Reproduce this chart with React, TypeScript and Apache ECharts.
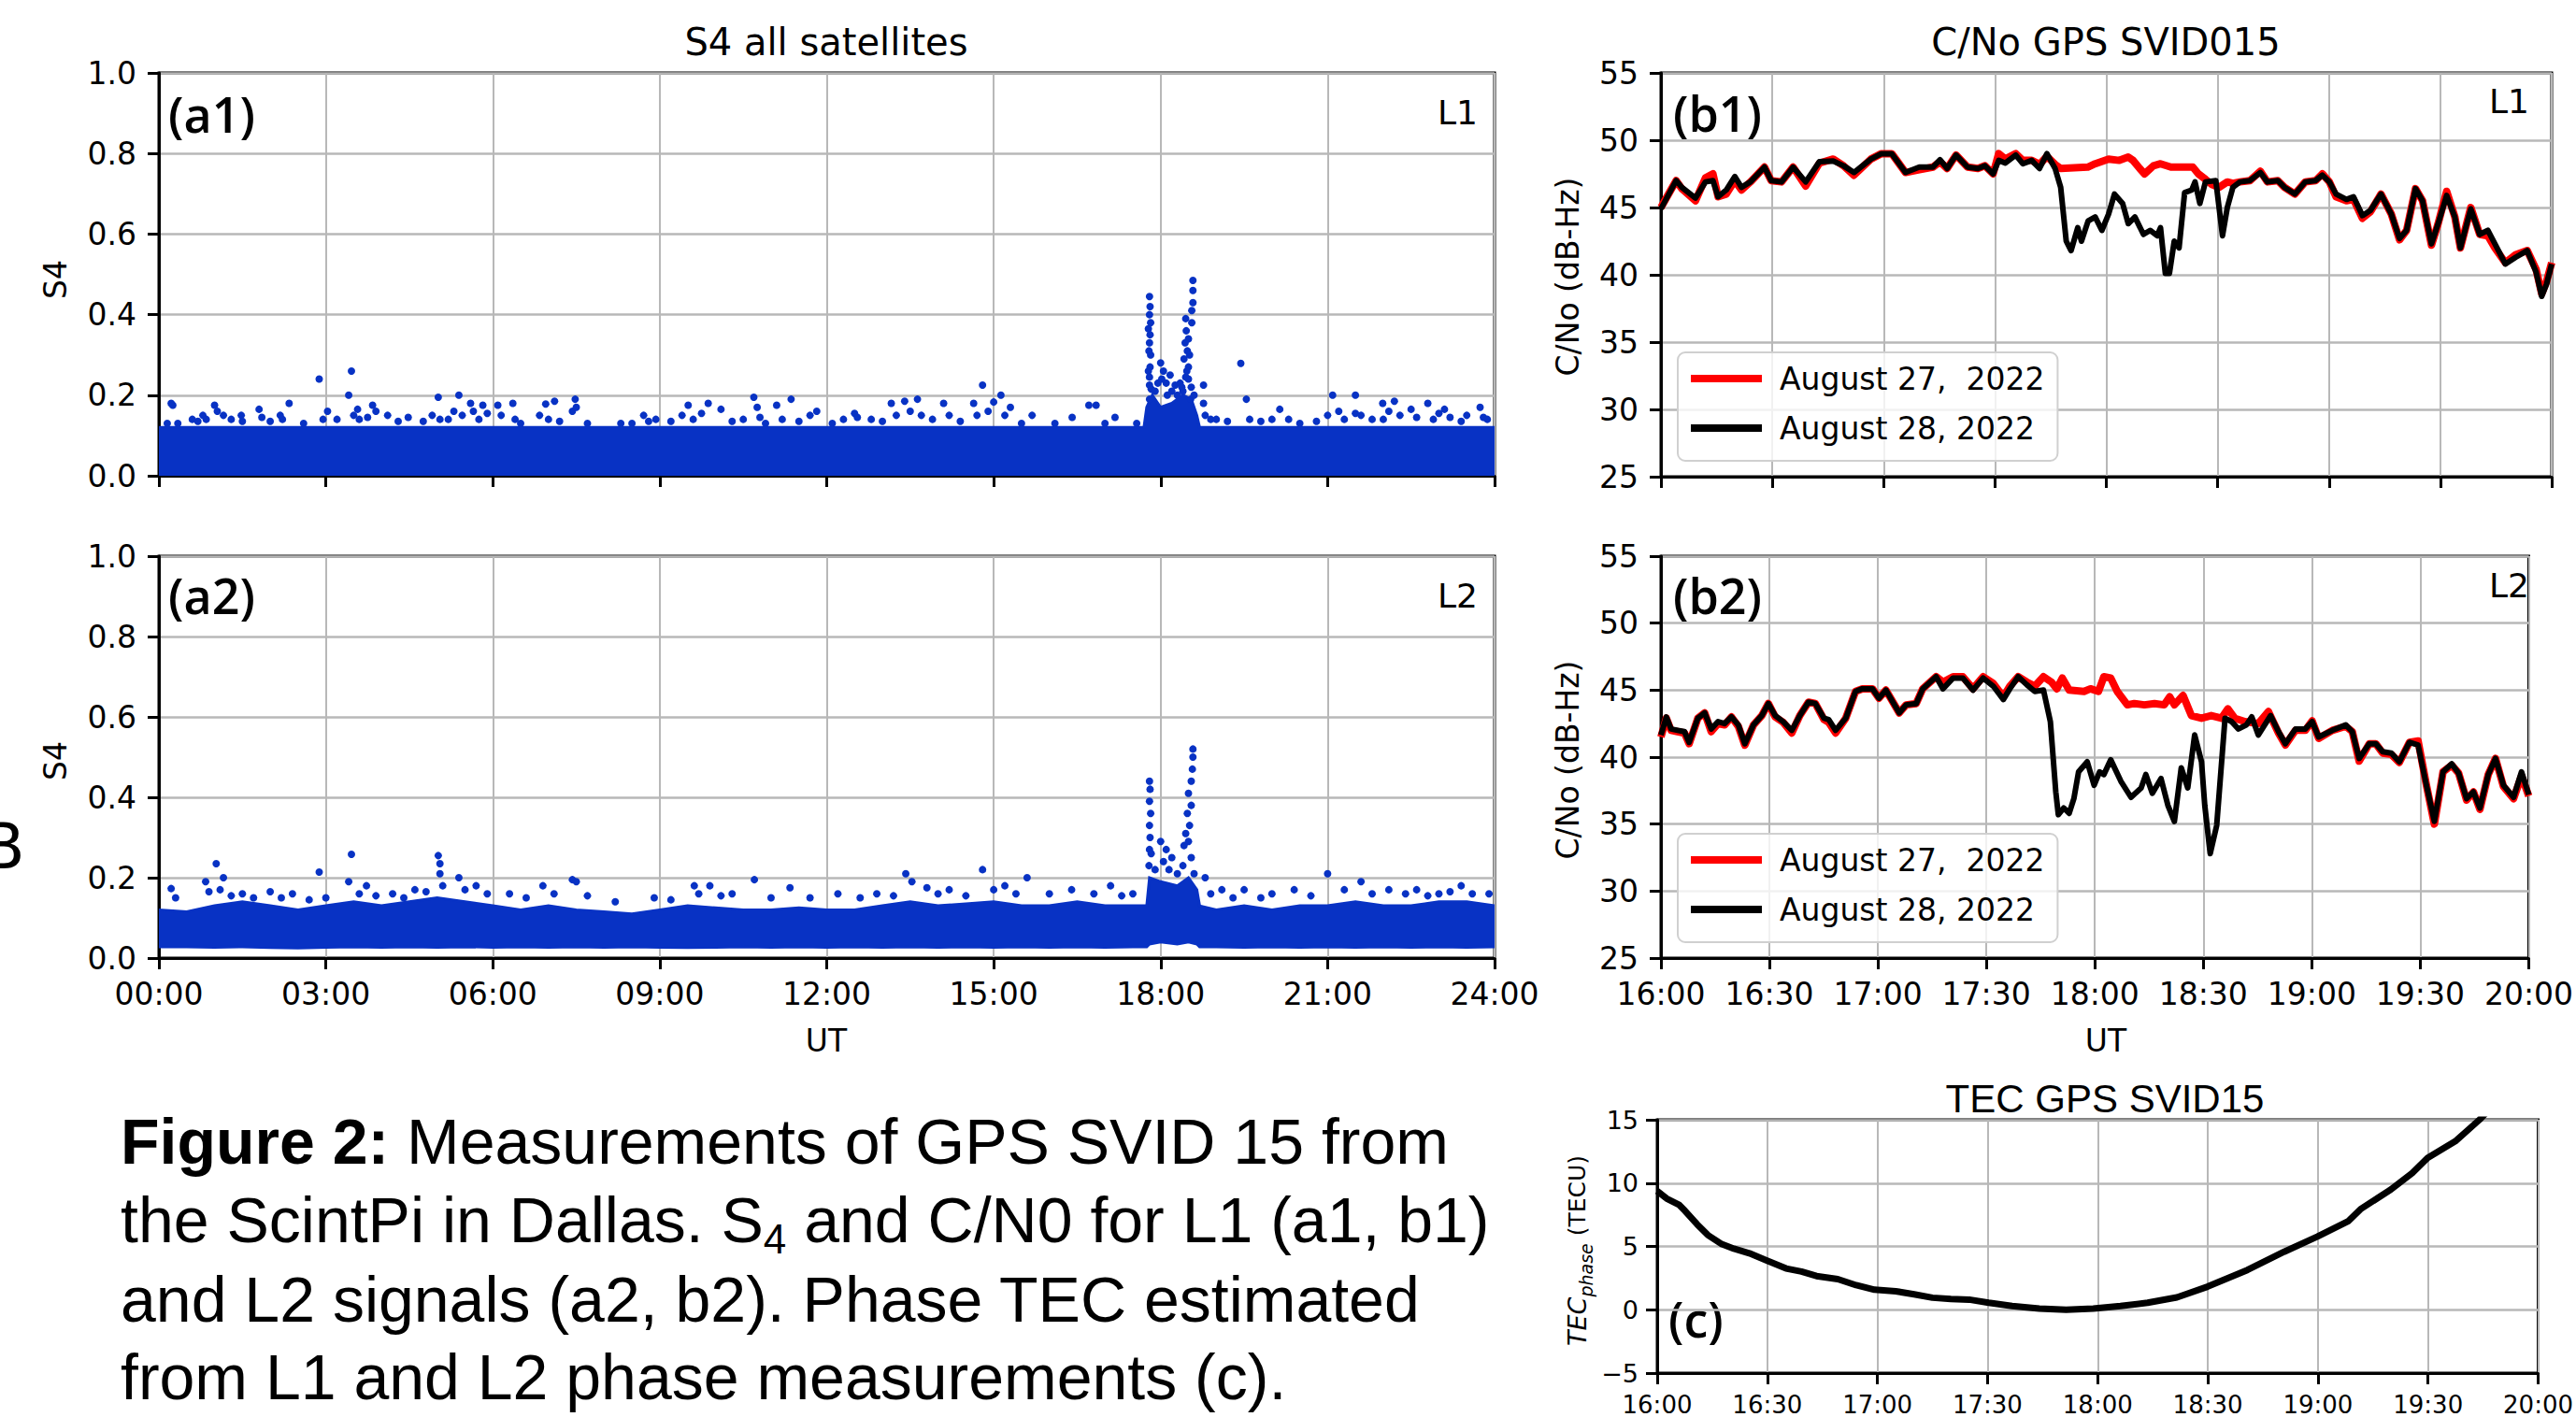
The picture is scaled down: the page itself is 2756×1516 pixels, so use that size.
import React, { useEffect, useRef } from "react";
import * as echarts from "echarts";

// ---------- DATA ----------
// (a1) S4 L1 : dense band envelope (hours UT, S4)
const a1BandHours = [0, 17.7, 17.75, 17.85, 18.0, 18.2, 18.4, 18.55, 18.65, 18.7, 24];
const a1BandUpper = [0.12, 0.12, 0.17, 0.2, 0.17, 0.18, 0.2, 0.19, 0.15, 0.12, 0.12];
const a1BandLower = [0.003, 0.003, 0.003, 0.003, 0.003, 0.003, 0.003, 0.003, 0.003, 0.003, 0.003];
// (a1) individual points above the band
const a1Points = [
  [0.15, 0.13], [0.22, 0.18], [0.25, 0.175], [0.34, 0.13], [0.6, 0.14], [0.7, 0.135], [0.79, 0.15], [0.85, 0.14],
  [1.0, 0.175], [1.05, 0.16], [1.16, 0.15], [1.3, 0.14], [1.48, 0.15], [1.5, 0.135], [1.8, 0.165], [1.85, 0.145],
  [2.0, 0.135], [2.18, 0.15], [2.22, 0.14], [2.34, 0.18], [2.6, 0.13], [2.88, 0.24], [2.95, 0.14], [3.03, 0.16],
  [3.2, 0.14], [3.41, 0.2], [3.46, 0.26], [3.5, 0.15], [3.57, 0.165], [3.6, 0.14], [3.75, 0.145], [3.84, 0.175],
  [3.9, 0.16], [4.11, 0.15], [4.3, 0.135], [4.48, 0.145], [4.75, 0.135], [4.91, 0.15], [5.02, 0.195], [5.05, 0.14],
  [5.2, 0.14], [5.3, 0.16], [5.39, 0.2], [5.45, 0.15], [5.6, 0.18], [5.65, 0.16], [5.75, 0.14], [5.82, 0.175],
  [5.9, 0.155], [6.09, 0.175], [6.15, 0.15], [6.36, 0.18], [6.4, 0.14], [6.5, 0.13], [6.84, 0.15], [6.95, 0.178],
  [7.0, 0.14], [7.11, 0.185], [7.2, 0.135], [7.43, 0.16], [7.48, 0.19], [7.5, 0.17], [7.7, 0.13], [8.3, 0.13],
  [8.5, 0.13], [8.71, 0.15], [8.8, 0.135], [8.93, 0.14], [9.2, 0.135], [9.4, 0.15], [9.51, 0.175], [9.6, 0.14],
  [9.75, 0.155], [9.87, 0.18], [10.1, 0.165], [10.3, 0.135], [10.5, 0.14], [10.69, 0.195], [10.75, 0.17], [10.8, 0.145],
  [10.9, 0.13], [11.1, 0.175], [11.2, 0.14], [11.36, 0.19], [11.5, 0.135], [11.7, 0.15], [11.82, 0.16], [12.1, 0.13],
  [12.3, 0.14], [12.5, 0.155], [12.55, 0.145], [12.8, 0.14], [13.0, 0.135], [13.16, 0.18], [13.25, 0.15], [13.4, 0.185],
  [13.5, 0.16], [13.63, 0.19], [13.7, 0.15], [13.9, 0.14], [14.1, 0.18], [14.2, 0.15], [14.4, 0.135], [14.64, 0.18],
  [14.7, 0.15], [14.8, 0.225], [14.9, 0.16], [15.0, 0.183], [15.13, 0.2], [15.2, 0.15], [15.3, 0.17], [15.5, 0.13],
  [15.69, 0.15], [16.1, 0.13], [16.41, 0.145], [16.71, 0.175], [16.84, 0.175], [17.0, 0.13], [17.18, 0.145],
  [17.57, 0.13],
  [17.8, 0.445], [17.81, 0.42], [17.8, 0.4], [17.82, 0.38], [17.81, 0.35], [17.8, 0.33], [17.82, 0.3], [17.81, 0.27],
  [17.8, 0.245], [17.83, 0.215], [17.8, 0.19], [17.78, 0.365], [17.79, 0.31], [17.78, 0.26], [17.8, 0.225],
  [17.9, 0.21], [17.95, 0.23], [18.0, 0.28], [18.02, 0.24], [18.05, 0.26], [18.1, 0.23], [18.12, 0.2], [18.17, 0.25],
  [18.2, 0.21], [18.26, 0.225], [18.3, 0.2], [18.35, 0.23],
  [18.58, 0.485], [18.58, 0.46], [18.58, 0.43], [18.56, 0.41], [18.45, 0.39], [18.56, 0.38], [18.46, 0.36], [18.5, 0.34],
  [18.48, 0.31], [18.42, 0.29], [18.5, 0.27], [18.45, 0.245], [18.38, 0.22], [18.54, 0.19], [18.5, 0.24],
  [18.44, 0.33], [18.52, 0.3], [18.47, 0.26], [18.55, 0.22], [18.6, 0.2], [18.4, 0.21],
  [18.77, 0.225], [18.77, 0.18], [18.8, 0.15], [18.9, 0.14], [19.0, 0.14], [19.2, 0.135], [19.44, 0.279], [19.54, 0.19],
  [19.6, 0.14], [19.8, 0.135], [20.0, 0.14], [20.14, 0.165], [20.3, 0.14], [20.5, 0.13], [20.8, 0.135], [21.0, 0.15],
  [21.09, 0.2], [21.2, 0.16], [21.3, 0.14], [21.5, 0.2], [21.5, 0.155], [21.6, 0.15], [21.8, 0.14], [21.99, 0.18],
  [22.0, 0.14], [22.1, 0.16], [22.2, 0.185], [22.3, 0.15], [22.5, 0.165], [22.6, 0.145], [22.8, 0.18], [22.9, 0.14],
  [23.0, 0.155], [23.1, 0.165], [23.2, 0.145], [23.4, 0.135], [23.5, 0.15], [23.74, 0.17], [23.8, 0.145], [23.87, 0.14]
];

// (a2) S4 L2 : dense band envelope
const a2BandHours = [0, 0.5, 1, 1.5, 2, 2.5, 3, 3.5, 4, 4.5, 5, 5.5, 6, 6.5, 7, 7.5, 8, 8.5, 9, 9.5, 10, 10.5, 11, 11.5, 12,
  12.5, 13, 13.5, 14, 14.5, 15, 15.5, 16, 16.5, 17, 17.5, 17.75, 17.8, 18.0, 18.3, 18.5, 18.65, 18.7, 19, 19.5, 20, 20.5,
  21, 21.5, 22, 22.5, 23, 23.5, 24];
const a2BandUpper = [0.12, 0.115, 0.13, 0.14, 0.13, 0.12, 0.13, 0.14, 0.13, 0.14, 0.15, 0.14, 0.13, 0.12, 0.13, 0.12, 0.115,
  0.11, 0.12, 0.13, 0.125, 0.12, 0.12, 0.125, 0.12, 0.12, 0.13, 0.14, 0.13, 0.135, 0.14, 0.13, 0.13, 0.14, 0.13, 0.13, 0.13,
  0.2, 0.19, 0.18, 0.2, 0.17, 0.13, 0.12, 0.13, 0.12, 0.13, 0.13, 0.14, 0.13, 0.13, 0.14, 0.14, 0.13];
const a2BandLower = [0.028, 0.028, 0.027, 0.028, 0.026, 0.025, 0.027, 0.028, 0.027, 0.028, 0.027, 0.028, 0.027, 0.028, 0.027,
  0.028, 0.027, 0.028, 0.027, 0.026, 0.027, 0.028, 0.027, 0.028, 0.027, 0.028, 0.027, 0.028, 0.027, 0.028, 0.027, 0.028, 0.027,
  0.028, 0.027, 0.028, 0.028, 0.035, 0.04, 0.035, 0.04, 0.035, 0.028, 0.028, 0.027, 0.028, 0.027, 0.028, 0.027, 0.028, 0.027,
  0.028, 0.027, 0.028];
const a2Points = [
  [0.22, 0.173], [0.3, 0.15], [0.84, 0.19], [0.9, 0.165], [1.03, 0.235], [1.1, 0.17], [1.16, 0.2], [1.3, 0.155],
  [1.5, 0.16], [1.7, 0.15], [2.0, 0.165], [2.2, 0.15], [2.4, 0.16], [2.7, 0.145], [2.88, 0.214], [3.0, 0.15],
  [3.41, 0.19], [3.46, 0.258], [3.6, 0.16], [3.73, 0.18], [3.9, 0.155], [4.2, 0.16], [4.4, 0.15], [4.6, 0.17],
  [4.8, 0.165], [5.02, 0.255], [5.05, 0.235], [5.05, 0.21], [5.1, 0.18], [5.39, 0.2], [5.5, 0.17], [5.7, 0.18],
  [5.9, 0.16], [6.3, 0.16], [6.6, 0.15], [6.9, 0.18], [7.1, 0.16], [7.43, 0.195], [7.5, 0.19], [7.7, 0.155],
  [8.2, 0.14], [8.9, 0.15], [9.2, 0.145], [9.62, 0.18], [9.7, 0.16], [9.9, 0.18], [10.1, 0.155], [10.3, 0.16],
  [10.7, 0.195], [11.0, 0.15], [11.34, 0.175], [11.7, 0.15], [12.2, 0.16], [12.6, 0.15], [12.9, 0.16], [13.2, 0.155],
  [13.42, 0.21], [13.53, 0.19], [13.8, 0.175], [14.0, 0.16], [14.2, 0.17], [14.5, 0.155], [14.8, 0.22], [15.0, 0.17],
  [15.2, 0.18], [15.4, 0.16], [15.6, 0.2], [16.0, 0.16], [16.4, 0.17], [16.8, 0.16], [17.1, 0.18], [17.3, 0.155],
  [17.5, 0.16],
  [17.8, 0.44], [17.81, 0.42], [17.8, 0.39], [17.82, 0.36], [17.8, 0.33], [17.81, 0.3], [17.8, 0.27], [17.83, 0.26],
  [17.79, 0.23], [17.9, 0.22], [18.0, 0.29], [18.05, 0.24], [18.1, 0.27], [18.15, 0.22], [18.2, 0.25], [18.3, 0.21],
  [18.58, 0.52], [18.58, 0.5], [18.57, 0.47], [18.55, 0.44], [18.5, 0.41], [18.55, 0.38], [18.48, 0.36], [18.52, 0.33],
  [18.45, 0.31], [18.5, 0.29], [18.42, 0.28], [18.4, 0.23], [18.55, 0.25], [18.6, 0.21],
  [18.8, 0.2], [18.9, 0.16], [19.1, 0.17], [19.3, 0.15], [19.5, 0.17], [19.8, 0.15], [20.0, 0.16], [20.4, 0.17],
  [20.7, 0.155], [21.0, 0.21], [21.3, 0.17], [21.6, 0.19], [21.8, 0.16], [22.1, 0.17], [22.4, 0.16], [22.6, 0.17],
  [22.8, 0.155], [23.0, 0.16], [23.2, 0.165], [23.4, 0.18], [23.6, 0.16], [23.9, 0.16]
];

// (b1) C/No L1, minutes after 16:00 UT
const b1Aug28 = [
  [0, 44.9], [4.1, 47.0], [5.6, 46.5], [9.3, 45.7], [12, 46.9], [14, 47.0], [15.4, 45.8], [17.6, 46.3], [19.9, 47.3],
  [21.7, 46.5], [24.1, 46.9], [27.9, 48.0], [29.7, 47.0], [32.5, 46.9], [35.6, 48.0], [39, 46.9], [42.7, 48.4],
  [46.4, 48.45], [49.2, 48.1], [52, 47.6], [56.6, 48.6], [59.4, 49.0], [62.2, 49.0], [65.9, 47.6], [69.6, 48.0],
  [73.3, 48.0], [75.2, 48.55], [77.1, 47.9], [79.5, 48.9], [82.6, 48.0], [85.4, 47.9], [87.3, 48.1], [89.5, 47.5],
  [91, 48.5], [92.8, 48.3], [95.6, 48.9], [97.5, 48.25], [99.9, 48.5], [102, 47.9], [104, 49.0], [106.2, 47.9],
  [107.7, 46.5], [109.2, 42.5], [110.5, 41.8], [112.3, 43.5], [113.3, 42.5], [115.1, 44.0], [117, 44.3], [118.8, 43.3],
  [120.6, 44.5], [122.2, 46.0], [124.4, 45.3], [125.9, 43.8], [127.7, 44.3], [130, 43.0], [131.8, 43.3], [133.7, 42.9],
  [134.6, 43.5], [135.9, 40.1], [137, 40.1], [138.3, 42.5], [139.6, 42.0], [141.1, 46.1], [143, 46.3], [143.9, 46.9],
  [145.2, 45.3], [146.7, 46.9], [149.5, 47.0], [151.3, 42.9], [152.6, 45.0], [154.1, 46.5], [156, 46.9], [158.7, 47.0],
  [161.5, 47.6], [163.4, 46.9], [166.2, 47.0], [168, 46.5], [170.8, 46.0], [173.6, 46.9], [176.4, 47.0], [178.2, 47.4],
  [180.1, 46.9], [181.9, 46.0], [184.7, 45.6], [186.6, 45.8], [189, 44.4], [191.2, 44.8], [194, 46.0], [196.8, 44.5],
  [199, 42.7], [200.9, 43.3], [203.3, 46.4], [205.2, 45.5], [207.6, 42.3], [209.4, 43.8], [211.7, 45.9], [213.9, 44.3],
  [215.4, 42.0], [218.2, 44.9], [220.6, 43.0], [222.8, 43.3], [224.7, 42.3], [227.5, 40.8], [230.3, 41.3], [233.4, 41.8],
  [235.8, 40.2], [237.3, 38.4], [238.6, 39.3], [240, 40.8]
];
const b1Aug27 = [
  [0, 45.0], [4.1, 47.0], [5.6, 46.4], [9.3, 45.5], [12, 47.2], [14, 47.5], [15.4, 45.8], [17.6, 46.0], [19.9, 47.0],
  [21.7, 46.3], [24.1, 46.9], [27.9, 48.0], [29.7, 47.0], [32.5, 46.9], [35.6, 48.0], [39, 46.6], [42.7, 48.3],
  [46.4, 48.6], [49.2, 48.1], [52, 47.4], [56.6, 48.6], [59.4, 49.0], [62.2, 49.0], [65.9, 47.6], [69.6, 47.8],
  [73.3, 48.0], [75.2, 48.4], [77.1, 47.9], [79.5, 48.9], [82.6, 48.0], [85.4, 47.9], [87.3, 48.1], [89.5, 47.5],
  [91, 49.0], [92.8, 48.6], [95.6, 49.0], [97.5, 48.5], [99.9, 48.5], [102, 48.2], [104, 48.8], [106.2, 48.2],
  [107.7, 47.9], [115, 48.0], [117, 48.25], [120.6, 48.6], [123.5, 48.5], [125.9, 48.75], [127.2, 48.5], [129, 47.9],
  [130.3, 47.5], [132.7, 48.1], [134.6, 48.25], [137.4, 48.0], [141, 48.0], [143.3, 48.0], [144.8, 47.5], [146.7, 47.1],
  [148.5, 46.7], [150.4, 46.5], [152.6, 46.9], [154.1, 46.8], [156, 46.9], [158.7, 47.0], [161.5, 47.7], [163.4, 46.9],
  [166.2, 47.0], [168, 46.5], [170.8, 46.0], [173.6, 46.9], [176.4, 47.0], [178.2, 47.5], [180.1, 46.9], [181.9, 45.8],
  [184.7, 45.5], [186.6, 45.6], [189, 44.2], [191.2, 44.7], [194, 46.0], [196.8, 44.5], [199, 42.6], [200.9, 43.3],
  [203.3, 46.4], [205.2, 45.5], [207.6, 42.2], [209.4, 43.8], [211.7, 46.2], [213.9, 44.3], [215.4, 42.0], [218.2, 45.0],
  [220.6, 43.0], [222.8, 42.9], [224.7, 42.0], [227.5, 40.9], [230.3, 41.5], [233.4, 41.8], [235.8, 40.4], [237.3, 38.6],
  [238.6, 39.5], [240, 40.9]
];

// (b2) C/No L2
const b2Aug28 = [
  [0, 41.65], [1.5, 43.0], [2.8, 42.1], [4.6, 42.0], [6.5, 41.9], [7.8, 41.1], [10.2, 42.9], [12.1, 43.3], [13.9, 42.1],
  [15.8, 42.65], [17.6, 42.5], [19.5, 43.0], [21.4, 42.4], [23.2, 41.0], [25.6, 42.4], [27.9, 43.1], [29.7, 44.0],
  [31.6, 43.1], [33.8, 42.65], [36.2, 42.0], [38.4, 43.1], [40.8, 44.1], [42.7, 44.0], [45.1, 42.9], [46.4, 42.8],
  [48.3, 42.0], [51.1, 42.9], [53.8, 44.9], [55.7, 45.1], [58.5, 45.1], [60.3, 44.4], [62.2, 45.0], [65.9, 43.3],
  [67.8, 43.9], [70.6, 44.0], [72.4, 45.1], [76.1, 46.0], [78, 45.1], [80.8, 45.9], [83.5, 45.9], [86.3, 45.0],
  [89.1, 45.9], [91.9, 45.3], [94.7, 44.3], [96.5, 45.1], [98.8, 46.0], [101.2, 45.4], [103.4, 44.9], [105.8, 45.0],
  [107.7, 42.65], [109.2, 37.4], [109.9, 35.7], [111.4, 36.2], [112.9, 35.8], [114.2, 36.9], [115.5, 38.9], [117.9, 39.65],
  [119.8, 37.9], [121.3, 38.9], [122.5, 38.7], [124.4, 39.8], [127.2, 38.2], [130, 37.0], [132.8, 37.7], [134.1, 38.7],
  [135.9, 37.3], [138.3, 38.4], [140.2, 36.4], [142, 35.2], [143.9, 39.2], [145.7, 37.7], [147.6, 41.65], [149.5, 39.65],
  [150.4, 36.4], [151.9, 32.8], [153.7, 34.9], [156, 42.9], [157.8, 42.65], [159.7, 42.1], [161.9, 42.4], [163.4, 43.0],
  [165.2, 41.65], [168.6, 43.1], [170.8, 41.9], [172.7, 41.0], [175.5, 42.1], [178.2, 42.1], [180.1, 42.65], [181.9, 41.5],
  [185.7, 42.0], [189.4, 42.4], [191.2, 41.9], [193.1, 39.9], [195.9, 41.0], [197.7, 41.0], [199.6, 40.4], [202, 40.3],
  [204.2, 39.65], [207, 41.1], [209.4, 40.9], [211.7, 37.9], [213.9, 35.2], [216.3, 38.9], [218.7, 39.5], [220.6, 38.8],
  [222.8, 36.9], [224.7, 37.4], [226.5, 36.2], [228.8, 38.7], [230.8, 39.9], [233, 37.9], [235.8, 37.0], [238, 38.9],
  [240, 37.2]
];
const b2Aug27 = [
  [0, 41.5], [1.5, 42.9], [2.8, 42.0], [4.6, 41.9], [6.5, 41.8], [7.8, 41.0], [10.2, 42.9], [12.1, 43.3], [13.9, 41.9],
  [15.8, 42.5], [17.6, 42.4], [19.5, 43.0], [21.4, 42.3], [23.2, 40.9], [25.6, 42.4], [27.9, 43.1], [29.7, 44.0],
  [31.6, 43.0], [33.8, 42.6], [36.2, 41.8], [38.4, 43.1], [40.8, 44.1], [42.7, 44.0], [45.1, 42.8], [46.4, 42.6],
  [48.3, 41.8], [51.1, 42.9], [53.8, 44.9], [55.7, 45.1], [58.5, 45.1], [60.3, 44.4], [62.2, 45.0], [65.9, 43.3],
  [67.8, 43.9], [70.6, 44.0], [72.4, 45.1], [76.1, 46.0], [78, 45.6], [80.8, 46.0], [83.5, 46.0], [86.3, 45.1],
  [89.1, 46.0], [91.9, 45.5], [94.7, 44.5], [96.5, 45.3], [98.8, 46.0], [101.2, 45.6], [103.4, 45.3], [105.8, 46.0],
  [108, 45.6], [109.5, 45.1], [111, 45.9], [112.9, 45.0], [117, 44.9], [118.8, 45.1], [121, 44.9], [122.5, 46.0],
  [124.4, 45.9], [126.2, 44.9], [129, 43.9], [130.9, 44.0], [133.7, 43.9], [136.5, 44.0], [139.2, 43.9], [140.7, 44.5],
  [142, 43.9], [144.4, 44.6], [146.7, 43.1], [149.5, 42.9], [152.2, 43.1], [155, 42.9], [156.8, 43.6], [158.7, 42.9],
  [161.5, 42.65], [165.2, 42.5], [168, 43.4], [170.8, 41.8], [172.7, 40.9], [175.5, 42.0], [178.2, 42.0], [180.1, 42.7],
  [181.9, 41.4], [185.7, 42.0], [189.4, 42.3], [191.2, 41.9], [193.1, 39.7], [195.9, 41.0], [197.7, 41.0], [199.6, 40.3],
  [202, 40.2], [204.2, 39.6], [207, 41.1], [209.4, 41.2], [211.7, 37.9], [213.9, 35.0], [216.3, 38.9], [218.7, 39.4],
  [220.6, 38.8], [222.8, 36.8], [224.7, 37.4], [226.5, 36.1], [228.8, 38.7], [230.8, 39.9], [233, 37.8], [235.8, 36.9],
  [238, 38.6], [240, 37.1]
];

// (c) phase TEC, minutes after 16:00 UT
const cTec = [
  [0, 9.37], [2.6, 8.78], [5.9, 8.3], [7.6, 7.8], [10.9, 6.74], [13.8, 5.9], [17.6, 5.18], [20.9, 4.82], [25.1, 4.46],
  [30.1, 3.86], [35.1, 3.26], [39.3, 3.02], [43.4, 2.66], [49.2, 2.42], [54.2, 1.94], [59.2, 1.58], [65, 1.46],
  [70, 1.22], [75, 0.95], [80, 0.85], [85, 0.8], [90.3, 0.55], [96.7, 0.3], [104.1, 0.1], [111.4, 0.0], [118.8, 0.1],
  [126.2, 0.3], [133.6, 0.55], [141.6, 0.98], [149.9, 1.82], [160.8, 3.14], [170.8, 4.58], [179.9, 5.78], [188.2, 6.98],
  [191.6, 7.94], [199.9, 9.5], [205.7, 10.8], [209.9, 12.0], [217.4, 13.3], [224, 15.0], [226, 15.6]
];

const sTicksHours = [0, 3, 6, 9, 12, 15, 18, 21, 24];

// ---------- HELPERS ----------
const BLUE = "#0832c4";
const FONT = "DejaVu Sans";
const GRID_COLOR = "#b8b8b8";
const LABEL_FONT = "Open Sans";

const hourFmt = (v: number) => (v < 10 ? "0" : "") + v + ":00";
const minFmt = (v: number) => {
  const h = 16 + Math.floor(v / 60);
  const m = v % 60;
  return h + ":" + (m < 10 ? "0" : "") + m;
};

function xAxisCfg(gridIndex: number, min: number, max: number, interval: number, fmt: (v: number) => string, showLabel: boolean, fontSize: number, margin: number) {
  return {
    type: "value",
    gridIndex,
    min,
    max,
    interval,
    axisLine: { show: true, onZero: false, lineStyle: { color: "#000", width: 3 } },
    axisTick: { show: true, inside: false, length: 12, lineStyle: { color: "#000", width: 3 } },
    axisLabel: {
      show: showLabel,
      formatter: fmt,
      color: "#000",
      fontFamily: FONT,
      fontSize,
      margin,
      showMaxLabel: true,
      showMinLabel: true,
      hideOverlap: false,
    },
    splitLine: { show: true, lineStyle: { color: GRID_COLOR, width: 2 } },
  };
}

function yAxisCfg(gridIndex: number, min: number, max: number, interval: number, fmt: (v: number) => string, fontSize: number, margin: number) {
  return {
    type: "value",
    gridIndex,
    min,
    max,
    interval,
    axisLine: { show: true, onZero: false, lineStyle: { color: "#000", width: 3 } },
    axisTick: { show: true, inside: false, length: 12, lineStyle: { color: "#000", width: 3 } },
    axisLabel: { formatter: fmt, color: "#000", fontFamily: FONT, fontSize, margin, showMaxLabel: true, showMinLabel: true },
    splitLine: { show: true, lineStyle: { color: GRID_COLOR, width: 2.5 } },
  };
}

function bandSeries(axisIndex: number, hours: number[], upper: number[], lower: number[]) {
  return {
    type: "custom",
    xAxisIndex: axisIndex,
    yAxisIndex: axisIndex,
    clip: true,
    z: 2,
    data: hours.map((h, i) => [h, upper[i]]),
    renderItem: (params: any, api: any) => {
      if (params.dataIndex !== 0) return null;
      const pts: number[][] = [];
      for (let i = 0; i < hours.length; i++) pts.push(api.coord([hours[i], upper[i]]));
      for (let i = hours.length - 1; i >= 0; i--) pts.push(api.coord([hours[i], lower[i]]));
      return { type: "polygon", shape: { points: pts }, style: { fill: BLUE, stroke: BLUE, lineWidth: 3 } };
    },
  };
}

function scatterSeries(axisIndex: number, pts: number[][]) {
  return {
    type: "scatter",
    xAxisIndex: axisIndex,
    yAxisIndex: axisIndex,
    data: pts,
    symbolSize: 8,
    itemStyle: { color: BLUE, opacity: 1 },
    z: 3,
  };
}

function lineSeries(axisIndex: number, name: string, data: number[][], color: string, width: number, z: number) {
  return {
    type: "line",
    name,
    xAxisIndex: axisIndex,
    yAxisIndex: axisIndex,
    data,
    symbol: "none",
    showSymbol: false,
    lineStyle: { color, width, join: "round" },
    itemStyle: { color },
    z,
  };
}

const txt = (text: string, x: number, y: number, fontSize: number, extra: any = {}) => ({
  type: "text",
  x,
  y,
  silent: true,
  style: {
    text,
    fontSize,
    fontFamily: FONT,
    fill: "#000",
    align: "center",
    verticalAlign: "middle",
    ...extra,
  },
});

const rtxt = (text: string, x: number, y: number, fontSize: number, extra: any = {}) => ({
  ...txt(text, x, y, fontSize, extra),
  rotation: Math.PI / 2,
});

const panelLabel = (text: string, x: number, y: number) =>
  txt(text, x, y, 52, { align: "left", fontWeight: 600, fontFamily: LABEL_FONT });

const LEG1 = "August 27,  2022";
const LEG2 = "August 28, 2022";

function legendCfg(left: number, top: number) {
  return {
    show: true,
    left,
    top,
    orient: "vertical",
    data: [LEG1, LEG2],
    itemWidth: 76,
    itemHeight: 8,
    itemGap: 19,
    padding: [11, 14, 18, 10],
    backgroundColor: "rgba(255,255,255,0.8)",
    borderColor: "#d0d0d0",
    borderWidth: 2,
    borderRadius: 8,
    selectedMode: false,
    textStyle: { fontFamily: FONT, fontSize: 33, color: "#000", lineHeight: 34, padding: [0, 0, 0, 14] },
    lineStyle: { width: 8 },
  };
}

export default function App() {
  const ref = useRef<HTMLDivElement>(null);
  useEffect(() => {
    if (!ref.current) return;
    const chart = echarts.init(ref.current, undefined, { renderer: "svg" });
    const gridBase = { show: true, borderColor: "#000", borderWidth: 3, backgroundColor: "transparent", containLabel: false };
    const capN = { fontFamily: "Liberation Sans", fontSize: 68, fill: "#000", lineHeight: 84 };
    const option: any = {
      animation: false,
      backgroundColor: "#fff",
      grid: [
        { ...gridBase, left: 170, top: 78, width: 1429, height: 431 },
        { ...gridBase, left: 170, top: 595, width: 1429, height: 430 },
        { ...gridBase, left: 1777, top: 78, width: 953, height: 432 },
        { ...gridBase, left: 1777, top: 595, width: 953, height: 430 },
        { ...gridBase, left: 1773, top: 1198, width: 961, height: 278 },
      ],
      xAxis: [
        xAxisCfg(0, sTicksHours[0], sTicksHours[sTicksHours.length - 1], 3, hourFmt, false, 33, 20),
        xAxisCfg(1, sTicksHours[0], sTicksHours[sTicksHours.length - 1], 3, hourFmt, true, 33, 22),
        xAxisCfg(2, 0, 240, 30, minFmt, false, 33, 20),
        xAxisCfg(3, 0, 240, 30, minFmt, true, 33, 22),
        xAxisCfg(4, 0, 240, 30, minFmt, true, 26, 21),
      ],
      yAxis: [
        yAxisCfg(0, 0, 1, 0.2, (v: number) => v.toFixed(1), 33, 24),
        yAxisCfg(1, 0, 1, 0.2, (v: number) => v.toFixed(1), 33, 24),
        yAxisCfg(2, 25, 55, 5, (v: number) => String(v), 33, 24),
        yAxisCfg(3, 25, 55, 5, (v: number) => String(v), 33, 24),
        yAxisCfg(4, -5, 15, 5, (v: number) => (v < 0 ? "\u2212" + Math.abs(v) : String(v)), 27, 20),
      ],
      legend: [legendCfg(1795, 377), legendCfg(1795, 892)],
      series: [
        bandSeries(0, a1BandHours, a1BandUpper, a1BandLower),
        scatterSeries(0, a1Points),
        bandSeries(1, a2BandHours, a2BandUpper, a2BandLower),
        scatterSeries(1, a2Points),
        lineSeries(2, LEG1, b1Aug27, "#ff0000", 8, 3),
        lineSeries(2, LEG2, b1Aug28, "#000000", 6, 4),
        lineSeries(3, LEG1, b2Aug27, "#ff0000", 8, 3),
        lineSeries(3, LEG2, b2Aug28, "#000000", 6, 4),
        { ...lineSeries(4, "TEC", cTec, "#000000", 7, 4), clip: true },
      ],
      graphic: [
        txt("S4 all satellites", 884, 45, 40),
        txt("C/No GPS SVID015", 2253, 45, 40),
        txt("TEC GPS SVID15", 2252, 1175, 42, { fontFamily: "Liberation Sans" }),
        rtxt("S4", 59, 299, 33),
        rtxt("S4", 59, 814, 33),
        rtxt("C/No (dB-Hz)", 1677, 296, 33),
        rtxt("C/No (dB-Hz)", 1677, 813, 33),
        {
          type: "text",
          x: 1687,
          y: 1338,
          rotation: Math.PI / 2,
          silent: true,
          style: {
            text: "{it|TEC}{sub|phase}{n| (TECU)}",
            align: "center",
            verticalAlign: "middle",
            rich: {
              it: { fontFamily: FONT, fontSize: 27, fontStyle: "italic", fill: "#000", lineHeight: 38 },
              sub: { fontFamily: FONT, fontSize: 19, fontStyle: "italic", fill: "#000", lineHeight: 25, verticalAlign: "bottom" },
              n: { fontFamily: FONT, fontSize: 25, fill: "#000", lineHeight: 38 },
            },
          },
        },
        txt("UT", 884, 1113, 33),
        txt("UT", 2253, 1113, 33),
        panelLabel("(a1)", 180, 121),
        panelLabel("(a2)", 180, 636),
        panelLabel("(b1)", 1790, 120),
        panelLabel("(b2)", 1790, 636),
        panelLabel("(c)", 1785, 1410),
        txt("L1", 1581, 120, 36, { align: "right" }),
        txt("L2", 1581, 637, 36, { align: "right" }),
        txt("L1", 2706, 108, 36, { align: "right" }),
        txt("L2", 2706, 626, 36, { align: "right" }),
        txt("B", -20, 905, 68, { align: "left" }),
        {
          type: "text",
          x: 129,
          y: 1221,
          silent: true,
          style: {
            text: "{b|Figure 2:}{n| Measurements of GPS SVID 15 from}",
            align: "left",
            verticalAlign: "middle",
            rich: { b: { ...capN, fontWeight: "bold" }, n: capN },
          },
        },
        {
          type: "text",
          x: 129,
          y: 1305,
          silent: true,
          style: {
            text: "{n|the ScintPi in Dallas. S}{sub|4}{n| and C/N0 for L1 (a1, b1)}",
            align: "left",
            verticalAlign: "middle",
            rich: {
              n: capN,
              sub: { fontFamily: "Liberation Sans", fontSize: 44, fill: "#000", lineHeight: 42, verticalAlign: "bottom" },
            },
          },
        },
        txt("and L2 signals (a2, b2). Phase TEC estimated", 129, 1390, 68, { align: "left", fontFamily: "Liberation Sans" }),
        txt("from L1 and L2 phase measurements (c).", 129, 1473, 68, { align: "left", fontFamily: "Liberation Sans" }),
      ],
    };
    chart.setOption(option);
    return () => chart.dispose();
  }, []);
  return (
    <div
      ref={ref}
      style={{ position: "absolute", left: 0, top: 0, width: 2756, height: 1516, background: "#fff" }}
    />
  );
}
